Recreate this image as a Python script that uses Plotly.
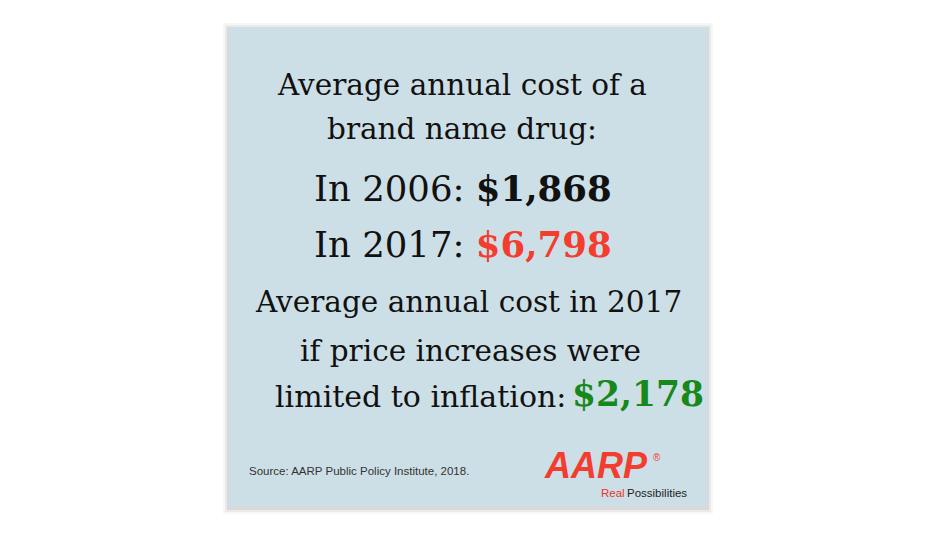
import plotly.graph_objects as go

years = ["2006", "2017"]
values = ["$1,868", "$6,798"]
value_colors = ["#111111", "#f23d2f"]
inflation_value = "$2,178"
title_lines = ["Average annual cost of a", "brand name drug:"]
infl_lines = ["Average annual cost in 2017", "if price increases were", "limited to inflation:"]
source = "Source: AARP Public Policy Institute, 2018."

SERIF = "DejaVu Serif"
fig = go.Figure()
fig.update_xaxes(range=[6, 938], visible=False, fixedrange=True)
fig.update_yaxes(range=[540, 5], visible=False, fixedrange=True)
fig.update_layout(width=932, height=535, margin=dict(l=0, r=0, t=0, b=0),
                  paper_bgcolor="white", plot_bgcolor="white", showlegend=False)
X0, X1, Y0, Y1 = 227, 705, 24, 503
for i, op in enumerate([0.03, 0.05, 0.07]):
    d = 6 - 2 * i
    fig.add_shape(type="rect", x0=X0 - d, x1=X1 + d, y0=Y0 - d + 2, y1=Y1 + d + 2,
                  line_width=0, fillcolor=f"rgba(0,0,0,{op})", layer="below")
fig.add_shape(type="rect", x0=X0, x1=X1, y0=Y0, y1=Y1, line_width=0, fillcolor="#cddfe6", layer="below")

def ann(text, x, y, size, color="#111111", xanchor="center", family=SERIF):
    fig.add_annotation(x=x, y=y, text=text, showarrow=False, xanchor=xanchor, yanchor="middle",
                       font=dict(family=family, size=size, color=color))

ann(title_lines[0], 460, 82, 29.5)
ann(title_lines[1], 460, 126, 29.5)
for (yr, v, c), yy in zip(zip(years, values, value_colors), [185, 241]):
    ann(f"In {yr}: <b><span style='color:{c}'>{v}</span></b>", 461, yy, 35.5)
ann(infl_lines[0], 466, 299, 29.5)
ann(infl_lines[1], 468, 348, 29.5)
ann(infl_lines[2], 566, 393, 30, xanchor="right")
ann(f"<b>{inflation_value}</b>", 568, 391, 34.5, color="#17881b", xanchor="left")
ann(source, 245, 468, 11.5, color="#333333", xanchor="left", family="Liberation Sans")
ann("<b><i>AARP</i></b>", 594, 462, 36, color="#f23d2f", family="Liberation Sans")
ann("®", 655, 454, 10, color="#f23d2f", family="Liberation Sans")
ann("Real", 597, 490, 11.5, color="#e8352a", xanchor="left", family="Liberation Sans")
ann("Possibilities", 623, 490, 11.5, color="#222222", xanchor="left", family="Liberation Sans")
fig.write_html("out.html")
